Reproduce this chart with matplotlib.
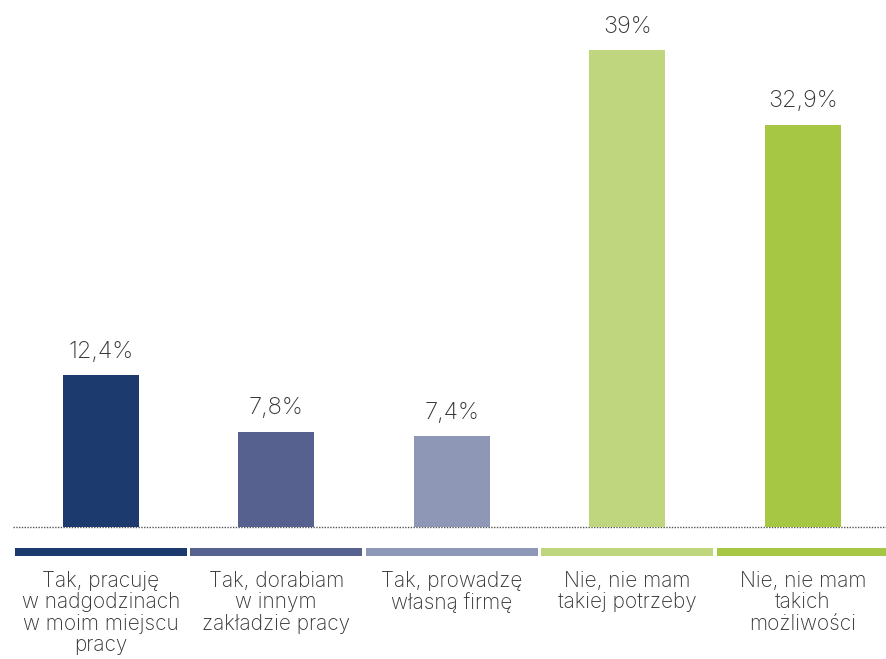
"""Bar chart: additional work (survey answers, %)."""

import matplotlib.pyplot as plt

categories = [
    "Tak, pracuję\nw nadgodzinach\nw moim miejscu\npracy",
    "Tak, dorabiam\nw innym\nzakładzie pracy",
    "Tak, prowadzę\nwłasną firmę",
    "Nie, nie mam\ntakiej potrzeby",
    "Nie, nie mam\ntakich\nmożliwości",
]
values = [12.4, 7.8, 7.4, 39.0, 32.9]
value_labels = ["12,4%", "7,8%", "7,4%", "39%", "32,9%"]
colors = ["#1d3a6e", "#56618f", "#8f97b7", "#bfd57e", "#a5c744"]

W, H = 886, 659
fig = plt.figure(figsize=(W / 100, H / 100), dpi=100, facecolor="white")

# axes: baseline at 527 px from top, x=-0.5 at 13 px, 175.5 px per category
px_per_unit = 12.23
ax = fig.add_axes([13 / W, 132 / H, (W - 13) / W, 527 / H])
ax.set_xlim(-0.5, -0.5 + (W - 13) / 175.5)
ax.set_ylim(0, 527 / px_per_unit)
ax.axis("off")

x = list(range(len(values)))
ax.bar(x, values, width=76 / 175.5, color=colors, zorder=2)

# value labels
for xi, v, lab in zip(x, values, value_labels):
    ax.annotate(
        lab, (xi, v), xytext=(0, 9), textcoords="offset points",
        ha="center", va="bottom", fontsize=17, color="#333333",
        family="Inter", fontweight="light",
    )

# dotted baseline
ax.axhline(0, color="#555555", linestyle=(0, (1, 1)), linewidth=1.0,
           zorder=1, clip_on=False)

# colored strips under each category
strip_h = 8 / px_per_unit
strip_bottom = -29 / px_per_unit
ax.bar(x, [strip_h] * len(x), bottom=strip_bottom, width=172 / 175.5,
       color=colors, clip_on=False)

# category labels
for xi, cat in zip(x, categories):
    ax.text(
        xi, -44 / px_per_unit, cat, ha="center", va="top", fontsize=15,
        color="#333333", linespacing=1.08, family="Inter",
        fontweight="light",
    )

fig.savefig("out.png", dpi=100, facecolor="white")
